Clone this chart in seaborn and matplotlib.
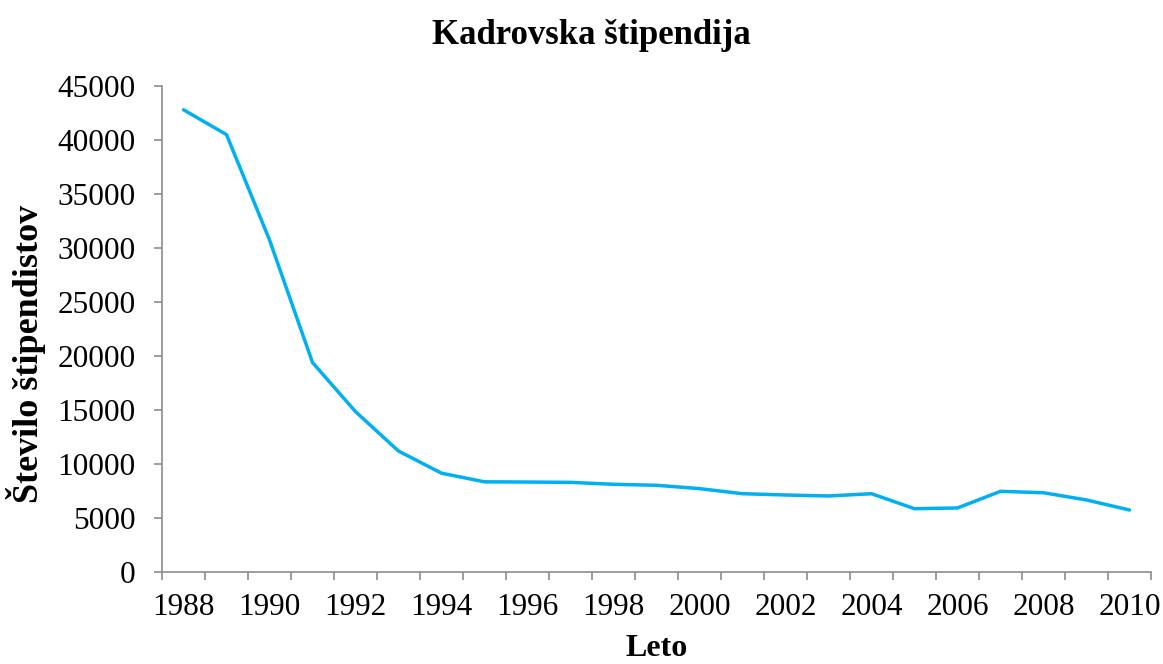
import matplotlib
matplotlib.use("Agg")
import matplotlib.pyplot as plt
import numpy as np
import pandas as pd
import seaborn as sns

years = list(range(1988, 2011))
scholars = [42800, 40500, 30750, 19400, 14850, 11200, 9150, 8350, 8330, 8300,
            8120, 8030, 7720, 7250, 7130, 7040, 7250, 5860, 5930, 7470,
            7340, 6670, 5740]
year_labels = [str(y) for y in years[::2]]
y_ticks = list(range(0, 45001, 5000))

data = pd.DataFrame({"Leto": years, "Stipendisti": scholars})

sns.set_style("white")
plt.rcParams["font.family"] = ["Liberation Serif", "DejaVu Serif"]
plt.rcParams["text.color"] = "black"
plt.rcParams["xtick.color"] = "black"
plt.rcParams["ytick.color"] = "black"
plt.rcParams["axes.labelcolor"] = "black"

axis_grey = "#8c8c8c"

fig = plt.figure(figsize=(11.63, 6.64), dpi=100)
ax = fig.add_axes([162 / 1163, 1 - 572 / 664, (1151 - 162) / 1163, (572 - 86) / 664])

sns.lineplot(data=data, x="Leto", y="Stipendisti", color="#00B0F0", linewidth=2.5, ax=ax)

ax.set_xlim(years[0] - 0.5, years[-1] + 0.5)
ax.set_ylim(0, 45000)

# category axis: tick marks between years, labels on every second year
ax.set_xticks(np.arange(years[0] - 0.5, years[-1] + 1, 1.0))
ax.set_xticklabels([])
ax.set_xticks(years[::2], minor=True)
ax.set_xticklabels(year_labels, minor=True)
ax.tick_params(axis="x", which="major", bottom=True, length=6, width=1.2,
               color=axis_grey, direction="out")
ax.tick_params(axis="x", which="minor", bottom=True, length=0, pad=15,
               labelsize=22.5, labelcolor="black")

ax.set_yticks(y_ticks)
ax.set_yticklabels([str(v) for v in y_ticks])
ax.tick_params(axis="y", left=True, length=6, width=1.2, color=axis_grey,
               direction="out", pad=13, labelsize=22.5, labelcolor="black")

for side in ["top", "right"]:
    ax.spines[side].set_visible(False)
for side in ["left", "bottom"]:
    ax.spines[side].set_color(axis_grey)
    ax.spines[side].set_linewidth(1.2)

ax.set_xlabel("Leto", fontsize=23, fontweight="bold", color="black")
ax.xaxis.set_label_coords(0.5, (572 - 649) / 486)
ax.xaxis.label.set_va("center")

ax.set_ylabel("Število štipendistov", fontsize=26, fontweight="bold", color="black")
ax.yaxis.set_label_coords((26 - 162) / 989, (572 - 354) / 486)
ax.yaxis.label.set_va("center")

fig.text(591 / 1163, 1 - 35 / 664, "Kadrovska štipendija", fontsize=25, fontweight="bold",
         color="black", ha="center", va="center")

fig.savefig("out.png", dpi=100)
